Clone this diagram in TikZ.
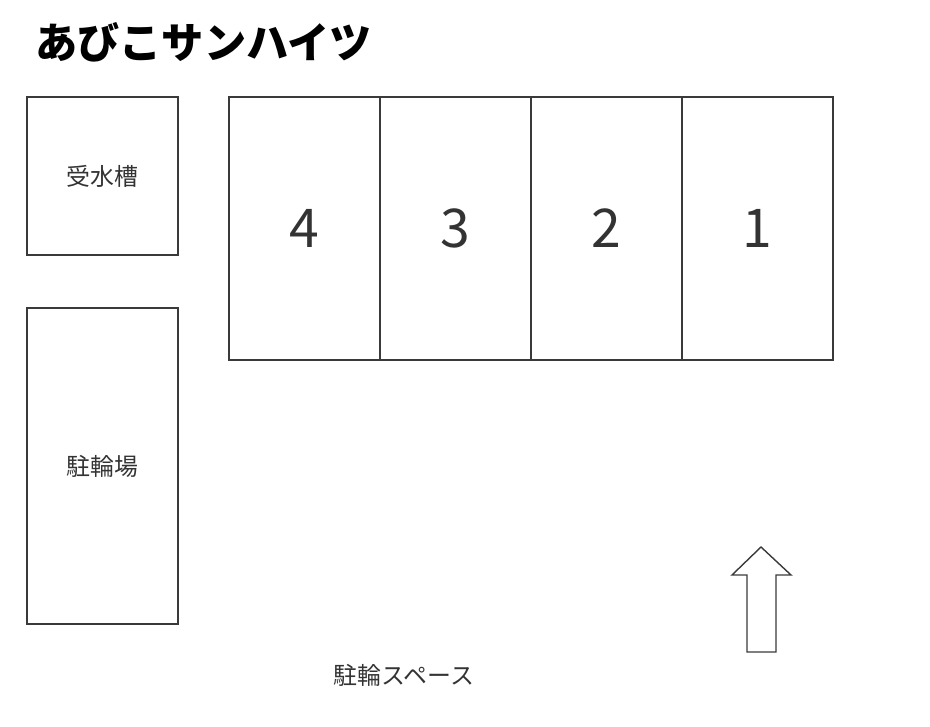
\documentclass[tikz,border=0pt]{standalone}
\usepackage{fontspec}
\newfontfamily\jp{Noto Sans CJK JP}
\usetikzlibrary{positioning}
\definecolor{linegray}{HTML}{3A3A3A}
\definecolor{textgray}{HTML}{333333}
\tikzset{
    box/.style={draw=linegray,line width=1pt,inner sep=0pt,text=textgray},
    lbl/.style={font=\jp\fontsize{17}{20}\selectfont,text=textgray},
}
\begin{document}
\begin{tikzpicture}[x=0.025cm,y=-0.025cm]
            \useasboundingbox (0,0) rectangle (930,726);
            \node[anchor=west,inner sep=0pt,font=\jp\bfseries\fontsize{30}{35}\selectfont] at (35,42)(title){あびこサンハイツ};
            \node[box,minimum width=151*0.025cm,minimum height=158*0.025cm,lbl] at (102.5,176)(tank){受水槽};
            \node[box,minimum width=151*0.025cm,minimum height=316*0.025cm,lbl] at (102.5,466)(bike){駐輪場};
            \foreach \x/\n in {304.5/4,455.5/3,606.5/2,757.5/1}{
                \node[box,minimum width=151*0.025cm,minimum height=263*0.025cm,font=\jp\fontsize{38}{44}\selectfont] at (\x,228.5)(unit\n){\n};
            }
            \node[lbl] at (404,675)(bikespace){駐輪スペース};
            % entrance
            \draw[linegray,line width=1pt,line join=miter] (761,547) -- (791,575) -- (776,575) -- (776,652) -- (747,652) -- (747,575) -- (732,575) -- cycle;
        \end{tikzpicture}
\end{document}
